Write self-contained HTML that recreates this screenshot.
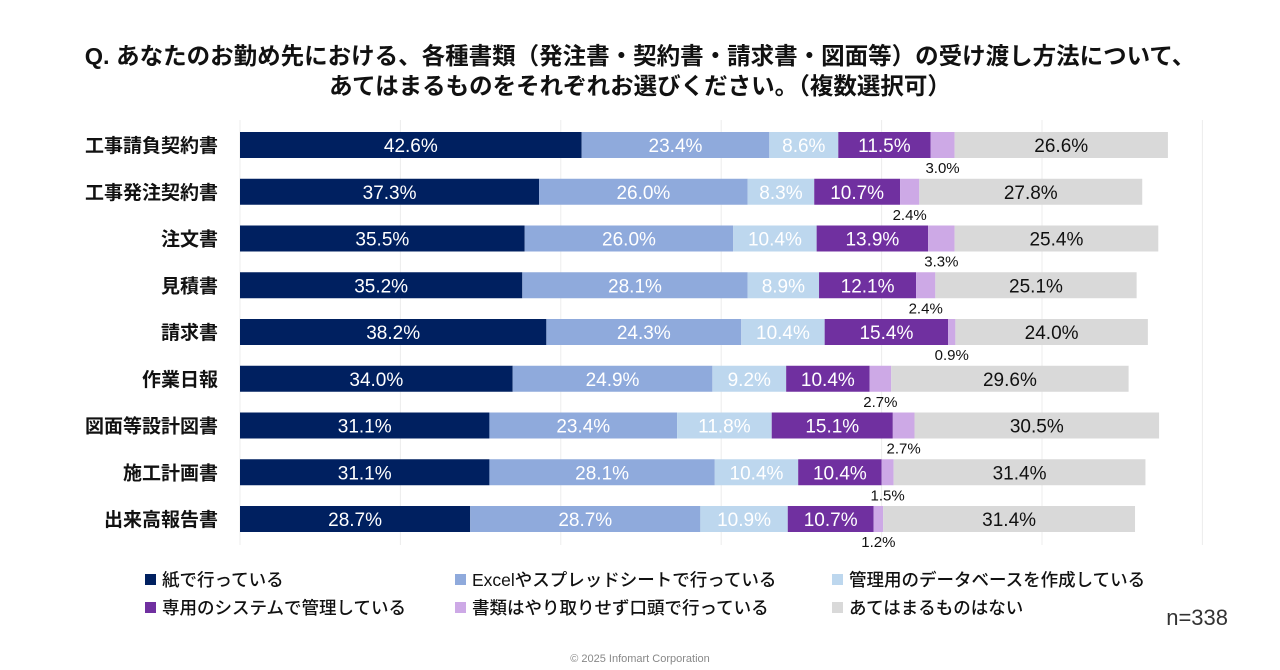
<!DOCTYPE html>
<html><head><meta charset="utf-8"><style>
body{margin:0;background:#fff;font-family:"Liberation Sans","Noto Sans CJK JP",sans-serif;}
#wrap{position:relative;width:1280px;height:670px;overflow:hidden;}
.title{position:absolute;left:0;width:1280px;text-align:center;font-weight:bold;font-size:23.5px;color:#111;}
</style></head><body>
<div id="wrap">
<div class="title" style="top:37px">Q. あなたのお勤め先における、各種書類（発注書・契約書・請求書・図面等）の受け渡し方法について、</div>
<div class="title" style="top:67px">あてはまるものをそれぞれお選びください。（複数選択可）</div>
<svg id="chart" width="1280" height="670" style="position:absolute;left:0;top:0"></svg>
</div>
<script>
const categories=["工事請負契約書","工事発注契約書","注文書","見積書","請求書","作業日報","図面等設計図書","施工計画書","出来高報告書"];
const paper=[42.6,37.3,35.5,35.2,38.2,34.0,31.1,31.1,28.7];
const excel=[23.4,26.0,26.0,28.1,24.3,24.9,23.4,28.1,28.7];
const database=[8.6,8.3,10.4,8.9,10.4,9.2,11.8,10.4,10.9];
const system=[11.5,10.7,13.9,12.1,15.4,10.4,15.1,10.4,10.7];
const verbal=[3.0,2.4,3.3,2.4,0.9,2.7,2.7,1.5,1.2];
const none=[26.6,27.8,25.4,25.1,24.0,29.6,30.5,31.4,31.4];
const seriesNames=["紙で行っている","Excelやスプレッドシートで行っている","管理用のデータベースを作成している","専用のシステムで管理している","書類はやり取りせず口頭で行っている","あてはまるものはない"];
const gridTicks=[0,20,40,60,80,100,120];

const series=[paper,excel,database,system,verbal,none];
const colors=["#002060","#8faadc","#bdd7ee","#7030a0","#cda9e6","#d9d9d9"];
const txtColors=["#fff","#fff","#fff","#fff","#111","#111"];
const X0=240,PX=8.02,Y0=132,STEP=46.75,BH=26;
const xs=v=>X0+v*PX, ys=i=>Y0+i*STEP;
const svg=document.getElementById('chart');const NS="http://www.w3.org/2000/svg";
function mk(t,a){const e=document.createElementNS(NS,t);for(const k in a)e.setAttribute(k,a[k]);svg.appendChild(e);return e;}
gridTicks.forEach(t=>{const l=mk('line',{x1:xs(t),x2:xs(t),y1:120,y2:545,stroke:'#ececec','stroke-width':1});

});
categories.forEach((c,i)=>{
 const y=ys(i);
 const t=mk('text',{x:218,y:y+BH/2+7,'text-anchor':'end','font-size':19,fill:'#111','font-weight':'bold'});t.textContent=c;
 
 
 let acc=0;
 series.forEach((s,j)=>{
  const v=s[i];
  const r=mk('rect',{x:xs(acc),y:y,width:v*PX,height:BH,fill:colors[j]});
  
  
  const cx=xs(acc+v/2);
  let lt;
  if(j===4){lt=mk('text',{x:cx,y:y+BH+15,'text-anchor':'middle','font-size':15,fill:'#111'});}
  else{lt=mk('text',{x:cx,y:y+BH/2+7,'text-anchor':'middle','font-size':19,fill:txtColors[j]});}
  lt.textContent=v.toFixed(1)+'%';
  
  
  acc+=v;
 });
});
const legX=[145,455,832],legY=[580,608];
seriesNames.forEach((n,j)=>{
 const x=legX[j%3],y=legY[Math.floor(j/3)];
 const r=mk('rect',{x:x,y:y-6,width:11,height:11,fill:colors[j]});
 
 
 const t=mk('text',{x:x+17,y:y+6,'font-size':17.5,fill:'#111','font-weight':'500'});t.textContent=n;
 
 
});
const nn=mk('text',{x:1228,y:625,'text-anchor':'end','font-size':22,fill:'#333'});nn.textContent='n=338';


const cp=mk('text',{x:640,y:662,'text-anchor':'middle','font-size':11,fill:'#888'});cp.textContent='© 2025 Infomart Corporation';


</script>
</body></html>
